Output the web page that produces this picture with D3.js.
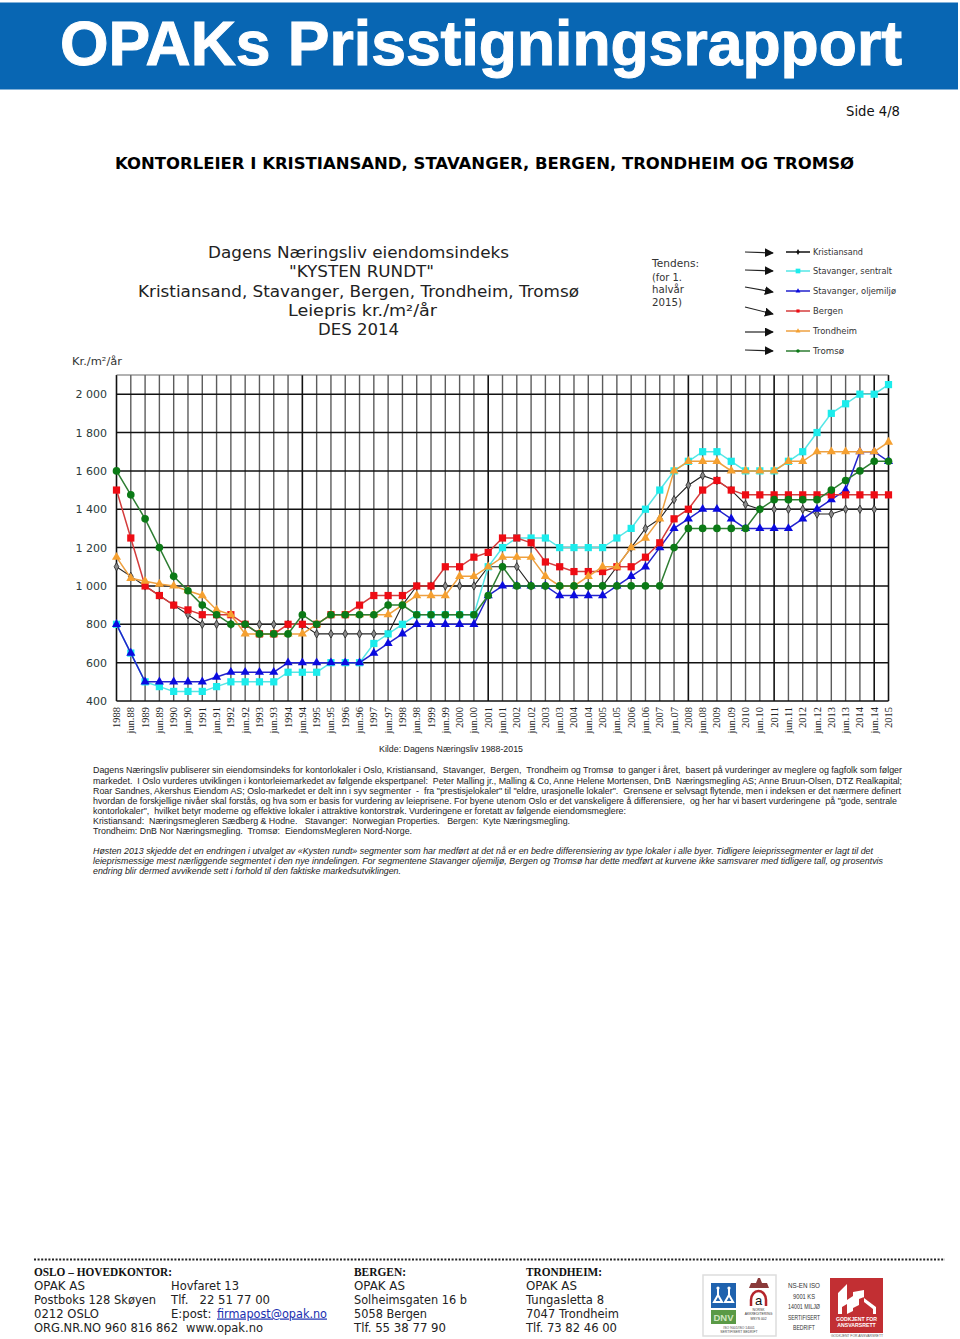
<!DOCTYPE html>
<html><head><meta charset="utf-8">
<style>html,body{margin:0;padding:0;background:#fff}svg{display:block}</style>
<script src="https://cdn.jsdelivr.net/npm/d3@7"></script>
</head><body><svg id="c" width="960" height="1339"></svg>
<script>
const categories = ["1988","jun.88","1989","jun.89","1990","jun.90","1991","jun.91","1992","jun.92","1993","jun.93","1994","jun.94","1995","jun.95","1996","jun.96","1997","jun.97","1998","jun.98","1999","jun.99","2000","jun.00","2001","jun.01","2002","jun.02","2003","jun.03","2004","jun.04","2005","jun.05","2006","jun.06","2007","jun.07","2008","jun.08","2009","jun.09","2010","jun.10","2011","jun.11","2012","jun.12","2013","jun.13","2014","jun.14","2015"];
const yTicks = [400,600,800,1000,1200,1400,1600,1800,2000];
const darkGrid = ["1988","jun.94","2001","2008","2011","jun.14","2015"];
const kristiansand = [1100,1050,1000,950,900,850,800,800,800,800,800,800,800,800,750,750,750,750,750,750,900,1000,1000,1000,1000,1000,1100,1100,1100,1000,1000,1000,1000,1000,1000,1100,1200,1300,1350,1450,1525,1575,1550,1500,1425,1400,1400,1400,1400,1375,1375,1400,1400,1400,null];
const stavangerSentralt = [800,650,500,475,450,450,450,475,500,500,500,500,550,550,550,600,600,600,700,750,800,850,850,850,850,850,1100,1200,1250,1250,1250,1200,1200,1200,1200,1250,1300,1400,1500,1600,1650,1700,1700,1650,1600,1600,1600,1650,1700,1800,1900,1950,2000,2000,2050];
const stavangerOljemiljo = [800,650,500,500,500,500,500,525,550,550,550,550,600,600,600,600,600,600,650,700,750,800,800,800,800,800,950,1000,1000,1000,1000,950,950,950,950,1000,1050,1100,1200,1300,1350,1400,1400,1350,1300,1300,1300,1300,1350,1400,1450,1500,1700,1700,1650];
const bergen = [1500,1250,1000,950,900,875,850,850,850,800,750,750,800,800,800,850,850,900,950,950,950,1000,1000,1100,1100,1150,1175,1250,1250,1225,1125,1100,1075,1075,1075,1100,1100,1150,1225,1350,1400,1500,1550,1500,1475,1475,1475,1475,1475,1475,1475,1475,1475,1475,1475];
const trondheim = [1150,1040,1025,1010,1000,975,950,875,850,750,750,750,750,750,800,850,850,850,850,850,900,950,950,950,1050,1050,1100,1150,1150,1150,1050,1000,1000,1050,1100,1100,1200,1250,1350,1600,1650,1650,1650,1600,1600,1600,1600,1650,1650,1700,1700,1700,1700,1700,1750];
const tromso = [1600,1475,1350,1200,1050,975,900,850,800,800,750,750,750,850,800,850,850,850,850,900,900,850,850,850,850,850,950,1100,1000,1000,1000,1000,1000,1000,1000,1000,1000,1000,1000,1200,1300,1300,1300,1300,1300,1400,1450,1450,1450,1450,1500,1550,1600,1650,1650];
const seriesNames = ["Kristiansand","Stavanger, sentralt","Stavanger, oljemiljø","Bergen","Trondheim","Tromsø"];
const seriesValues = [kristiansand,stavangerSentralt,stavangerOljemiljo,bergen,trondheim,tromso];
const lineColors = ["#222","#55e6e6","#2222cc","#d43c3c","#eea040","#2e7d32"];
const markColors = ["#8a8a8a","#1cecec","#0a0ae0","#ee0c14","#f5a030","#0b7a16"];
const symbols = [d3.symbolDiamond,d3.symbolSquare,d3.symbolTriangle,d3.symbolSquare,d3.symbolTriangle,d3.symbolCircle];
const symbolSizes = [20,52,36,52,36,46];

const svg = d3.select("#c");
const SANS = "'Liberation Sans',Arial,sans-serif", SERIF = "'Liberation Serif',serif", DJ = "'DejaVu Sans',sans-serif", NOTO = "'Noto Sans',sans-serif";
function txt(p,s,x,y,size,font,o={}){
  const t=p.append("text").attr("x",x).attr("y",y).attr("font-size",size).attr("font-family",font)
    .attr("fill",o.fill||"#111").attr("xml:space","preserve").style("white-space","pre").text(s);
  if(o.weight)t.attr("font-weight",o.weight);
  if(o.style)t.attr("font-style",o.style);
  if(o.anchor)t.attr("text-anchor",o.anchor);
  if(o.len)t.attr("textLength",o.len).attr("lengthAdjust","spacingAndGlyphs");
  if(o.deco)t.attr("text-decoration",o.deco);
  return t;
}

// page header
svg.append("rect").attr("x",0).attr("y",2.5).attr("width",958).attr("height",87).attr("fill","#0866b3");
txt(svg,"OPAKs Prisstigningsrapport",60,64.5,63,SANS,{fill:"#fff",weight:"bold",len:842}).attr("stroke","#fff").attr("stroke-width",1);
txt(svg,"Side 4/8",846,115.5,13.5,DJ,{len:54});
txt(svg,"KONTORLEIER I KRISTIANSAND, STAVANGER, BERGEN, TRONDHEIM OG TROMSØ",115,169,16,DJ,{weight:"bold",fill:"#000",len:739});

// chart title
const titleLines = [["Dagens Næringsliv eiendomsindeks",208,301,258],["\"KYSTEN RUNDT\"",289,145,277],["Kristiansand, Stavanger, Bergen, Trondheim, Tromsø",138,441,297],["Leiepris kr./m²/år",288,149,316],["DES 2014",318,81,335]];
titleLines.forEach(l=>txt(svg,l[0],l[1],l[3],16,DJ,{fill:"#222",len:l[2]}));
[["Tendens:",267,47],["(for 1.",280.5,30],["halvår",293,32],["2015)",306,30]].forEach(l=>txt(svg,l[0],652,l[1],10.5,DJ,{fill:"#333",len:l[2]}));
txt(svg,"Kr./m²/år",72,365,10.5,DJ,{fill:"#333",len:50});

// scales
const x = d3.scalePoint().domain(categories).range([116.5,888.5]);
const y = d3.scaleLinear().domain([400,2100]).range([701,375]);

// grid
const g = svg.append("g");
g.selectAll("line.v").data(categories).join("line").attr("class","v")
  .attr("x1",d=>x(d)).attr("x2",d=>x(d)).attr("y1",y(2100)).attr("y2",y(400))
  .attr("stroke",d=>darkGrid.includes(d)?"#111":"#5c5c5c").attr("stroke-width",d=>darkGrid.includes(d)?1.6:1.4);
g.selectAll("line.h").data(yTicks).join("line").attr("class","h")
  .attr("x1",x("1988")).attr("x2",x("2015")).attr("y1",d=>y(d)).attr("y2",d=>y(d))
  .attr("stroke","#111").attr("stroke-width",1.5);
g.append("line").attr("x1",x("1988")).attr("x2",x("2015")).attr("y1",y(2100)).attr("y2",y(2100)).attr("stroke","#666").attr("stroke-width",1.2);

// axes labels
const fmt = v=>v>=1000?d3.format(",")(v).replace(","," "):String(v);
g.selectAll("text.yt").data(yTicks).join("text").attr("class","yt")
  .attr("x",107).attr("y",d=>y(d)+4).attr("text-anchor","end").attr("font-size",11).attr("font-family",DJ).attr("fill","#2a3a3a").text(fmt);
g.selectAll("text.xt").data(categories).join("text").attr("class","xt")
  .attr("transform",d=>`translate(${x(d)+3.5},707) rotate(-90)`).attr("text-anchor","end")
  .attr("font-size",10.5).attr("font-family",SERIF).attr("fill","#222").text(d=>d);

// series
const line = d3.line().defined(d=>d.v!==null).x(d=>x(d.c)).y(d=>y(d.v));
seriesValues.forEach((vals,i)=>{
  const pts = vals.map((v,k)=>({c:categories[k],v}));
  const s = svg.append("g");
  s.append("path").attr("d",line(pts)).attr("fill","none").attr("stroke",lineColors[i]).attr("stroke-width",i===0?1.1:1.5);
  s.selectAll("path.m").data(pts.filter(d=>d.v!==null)).join("path").attr("class","m")
    .attr("transform",d=>`translate(${x(d.c)},${y(d.v)})`)
    .attr("d",d3.symbol().type(symbols[i]).size(symbolSizes[i]))
    .attr("fill",markColors[i]).attr("stroke",i===0?"#222":"none").attr("stroke-width",0.8);
});

// legend + trend arrows
const legendY = [252,271,291,311,331,351];
const legendLen = [50,79,83,30,44,31];
const arrowDy = [[252,253],[270,271],[287,292],[307,314],[332,332],[350,351]];
const ah = svg.append("defs").append("marker").attr("id","ah").attr("viewBox","0 0 10 10").attr("refX",9).attr("refY",5)
  .attr("markerWidth",9).attr("markerHeight",9).attr("markerUnits","userSpaceOnUse").attr("orient","auto");
ah.append("path").attr("d","M0,0L10,5L0,10Z").attr("fill","#111");
seriesNames.forEach((n,i)=>{
  const yy=legendY[i];
  svg.append("line").attr("x1",745).attr("x2",773).attr("y1",arrowDy[i][0]).attr("y2",arrowDy[i][1]).attr("stroke","#222").attr("stroke-width",1.2).attr("marker-end","url(#ah)");
  svg.append("line").attr("x1",786).attr("x2",810).attr("y1",yy).attr("y2",yy).attr("stroke",i===0?"#111":lineColors[i]).attr("stroke-width",1.5);
  svg.append("path").attr("transform",`translate(798,${yy})`).attr("d",d3.symbol().type(symbols[i]).size(i===1?22:10)).attr("fill",i===0?"#111":markColors[i]);
  txt(svg,n,813,yy+3,8.5,DJ,{fill:"#333",len:legendLen[i]});
});

// source and notes
txt(svg,"Kilde: Dagens Næringsliv 1988-2015",379,751.5,9.5,SANS,{fill:"#222",len:144});
const noteLines = [
 ["Dagens Næringsliv publiserer sin eiendomsindeks for kontorlokaler i Oslo, Kristiansand,  Stavanger,  Bergen,  Trondheim og Tromsø  to ganger i året,  basert på vurderinger av meglere og fagfolk som følger",773,809],
 ["markedet.  I Oslo vurderes utviklingen i kontorleiemarkedet av følgende ekspertpanel:  Peter Malling jr., Malling & Co, Anne Helene Mortensen, DnB  Næringsmegling AS; Anne Bruun-Olsen, DTZ Realkapital;",783.5,809],
 ["Roar Sandnes, Akershus Eiendom AS; Oslo-markedet er delt inn i syv segmenter  -  fra \"prestisjelokaler\" til \"eldre, urasjonelle lokaler\".  Grensene er selvsagt flytende, men i indeksen er det nærmere definert",793.5,808],
 ["hvordan de forskjellige nivåer skal forstås, og hva som er basis for vurdering av leieprisene. For byene utenom Oslo er det vanskeligere å differensiere,  og her har vi basert vurderingene  på \"gode, sentrale",804,804],
 ["kontorlokaler\",  hvilket betyr moderne og effektive lokaler i attraktive kontorstrøk. Vurderingene er foretatt av følgende eiendomsmeglere:",814,533],
 ["Kristiansand:  Næringsmegleren Sædberg & Hodne.   Stavanger:  Norwegian Properties.   Bergen:  Kyte Næringsmegling.",824,477],
 ["Trondheim: DnB Nor Næringsmegling.  Tromsø:  EiendomsMegleren Nord-Norge.",834,319]];
noteLines.forEach(l=>txt(svg,l[0],93,l[1],9.3,SANS,{fill:"#222",len:l[2]}));
const italicLines = [
 ["Høsten 2013 skjedde det en endringen i utvalget av «Kysten rundt» segmenter som har medført at det nå er en bedre differensiering av type lokaler i alle byer. Tidligere leieprissegmenter er lagt til det",854,780],
 ["leieprismessige mest nærliggende segmentet i den nye inndelingen. For segmentene Stavanger oljemiljø, Bergen og Tromsø har dette medført at kurvene ikke samsvarer med tidligere tall, og prosentvis",864,790],
 ["endring blir dermed avvikende sett i forhold til den faktiske markedsutviklingen.",874,308]];
italicLines.forEach(l=>txt(svg,l[0],93,l[1],9.3,SANS,{fill:"#222",style:"italic",len:l[2]}));

// footer
svg.append("line").attr("x1",34).attr("x2",945).attr("y1",1259.5).attr("y2",1259.5).attr("stroke","#222").attr("stroke-width",2).attr("stroke-dasharray","2 1.6");
const heads=[["OSLO – HOVEDKONTOR:",34,138],["BERGEN:",354,52],["TRONDHEIM:",526,76]];
heads.forEach(h=>txt(svg,h[0],h[1],1276,11.5,SERIF,{weight:"bold",fill:"#111",len:h[2]}));
const rows=[1289.5,1303.5,1317.5,1331.5];
[["OPAK AS",34,0,51],["Postboks 128 Skøyen",34,1,122],["0212 OSLO",34,2,65],["ORG.NR.NO 960 816 862",34,3,144],
 ["Hovfaret 13",171,0,68],["Tlf.   22 51 77 00",171,1,99],["www.opak.no",186,3,77],
 ["OPAK AS",354,0,51],["Solheimsgaten 16 b",354,1,113],["5058 Bergen",354,2,73],["Tlf. 55 38 77 90",354,3,92],
 ["OPAK AS",526,0,51],["Tungasletta 8",526,1,78],["7047 Trondheim",526,2,93],["Tlf. 73 82 46 00",526,3,91]
].forEach(r=>txt(svg,r[0],r[1],rows[r[2]],12,DJ,{fill:"#222",len:r[3]}));
txt(svg,"E:post: ",171,rows[2],12,DJ,{fill:"#222",len:44});
txt(svg,"firmapost@opak.no",217,rows[2],12,DJ,{fill:"#1a2fb0",deco:"underline",len:110});

// certificate badges
svg.append("rect").attr("x",703).attr("y",1275).attr("width",73).attr("height",61).attr("fill","#fff").attr("stroke","#ddd").attr("stroke-width",1.5);
svg.append("rect").attr("x",711).attr("y",1283).attr("width",25).attr("height",25).attr("fill","#1f62ae");
[718,729].forEach(cx=>{
  svg.append("path").attr("d",`M${cx},1287v8l-4,7h8l-4,-7`).attr("fill","none").attr("stroke","#fff").attr("stroke-width",2);
  svg.append("circle").attr("cx",cx).attr("cy",1288).attr("r",1.6).attr("fill","#fff");
});
svg.append("rect").attr("x",711).attr("y",1310).attr("width",25).attr("height",14).attr("fill","#5a9a46");
txt(svg,"DNV",723.5,1321,9.5,SANS,{fill:"#cfe6c0",weight:"bold",anchor:"middle"});
svg.append("path").attr("d","M751,1306v-6a7.5,9 0 0 1 15,0v6").attr("fill","none").attr("stroke","#b5262c").attr("stroke-width",2.5);
txt(svg,"a",758.5,1305,13,SANS,{fill:"#111",anchor:"middle"});
svg.append("path").attr("d","M749,1288h20l-2,-5h-5l-2,-5h-2l-2,5h-5z").attr("fill","#8a3a3a");
[["NORSK",1311],["AKKREDITERING",1315.2],["MSYS 002",1320]].forEach(t=>txt(svg,t[0],758.5,t[1],3.4,SANS,{fill:"#333",anchor:"middle"}));
[["ISO 9001/ISO 14001",1329],["SERTIFISERT BEDRIFT",1333.2]].forEach(t=>txt(svg,t[0],739,t[1],3.4,SANS,{fill:"#444",anchor:"middle"}));
[["NS-EN ISO",1288],["9001 KS",1299],["14001 MILJØ",1309],["SERTIFISERT",1319.5],["BEDRIFT",1330]].forEach(t=>txt(svg,t[0],804,t[1],8,SANS,{fill:"#333",anchor:"middle",len:t[0].length>8?32:22}));
svg.append("rect").attr("x",830).attr("y",1278).attr("width",53).attr("height",55).attr("fill","#c22f33");
svg.append("path").attr("d","M838,1314v-21l9,-9v16l6,-4v-4l11,-2v8l12,9v7h-3v-5l-9,-7v-5l-5,2v6l-6,3v3l-6,3v-10l-5,3v7z").attr("fill","#fff");
txt(svg,"GODKJENT FOR",856.5,1321,5.2,SANS,{fill:"#fff",weight:"bold",anchor:"middle"});
txt(svg,"ANSVARSRETT",856.5,1327,5.2,SANS,{fill:"#fff",weight:"bold",anchor:"middle"});
txt(svg,"GODKJENT FOR ANSVARSRETT",857,1336.5,3.4,SANS,{fill:"#555",anchor:"middle"});
</script></body></html>
